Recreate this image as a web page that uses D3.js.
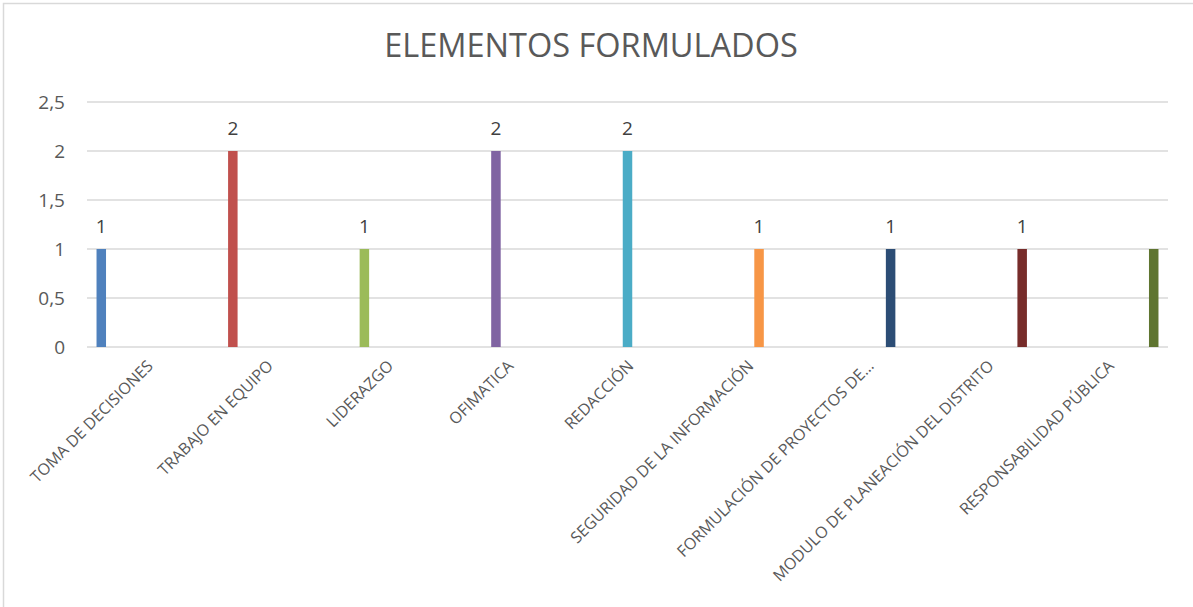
<!DOCTYPE html>
<html>
<head>
<meta charset="utf-8">
<script src="https://cdn.jsdelivr.net/npm/d3@7"></script>
<style>
  html, body { margin: 0; padding: 0; background: #fff; }
  svg { display: block; }
  text { font-family: "Open Sans", "Noto Sans", sans-serif; }
</style>
</head>
<body>
<svg id="chart" width="1193" height="607"></svg>
<script>
const title = "ELEMENTOS FORMULADOS";
const categories = [
  "TOMA DE DECISIONES",
  "TRABAJO EN EQUIPO",
  "LIDERAZGO",
  "OFIMATICA",
  "REDACCIÓN",
  "SEGURIDAD DE LA INFORMACIÓN",
  "FORMULACIÓN DE PROYECTOS DE…",
  "MODULO DE PLANEACIÓN DEL DISTRITO",
  "RESPONSABILIDAD PÚBLICA"
];
const values = [1, 2, 1, 2, 2, 1, 1, 1, 1];
const dataLabels = ["1", "2", "1", "2", "2", "1", "1", "1", null];
const colors = ["#4F81BD", "#C0504D", "#9BBB59", "#8064A2", "#4BACC6", "#F79646", "#2C4D75", "#772C2A", "#5F7530"];
const yTicks = [0, 0.5, 1, 1.5, 2, 2.5];
const yTickLabels = ["0", "0,5", "1", "1,5", "2", "2,5"];

const svg = d3.select("#chart");
const W = 1193, H = 607;

// chart border
svg.append("path")
  .attr("d", `M3.5,${H} L3.5,3.5 L${W},3.5`)
  .attr("fill", "none")
  .attr("stroke", "#d9d9d9")
  .attr("stroke-width", 1.5);

const plot = { left: 87, right: 1168, top: 102, bottom: 347 };

const x = d3.scaleBand().domain(categories).range([plot.left, plot.right]).padding(0);
// each category is its own series in a cluster of 9 slots
const inner = d3.scaleBand().domain(d3.range(categories.length))
  .range([(x.bandwidth() - 103) / 2, (x.bandwidth() + 103) / 2])
  .paddingInner(0.17).paddingOuter(0.085);
const y = d3.scaleLinear().domain([0, 2.5]).range([plot.bottom, plot.top]);

// title
svg.append("text")
  .attr("x", 591).attr("y", 57)
  .attr("text-anchor", "middle")
  .attr("font-size", 32.5)
  .attr("fill", "#595959")
  .text(title);

// gridlines
svg.append("g").selectAll("line").data(yTicks).join("line")
  .attr("x1", plot.left).attr("x2", plot.right)
  .attr("y1", d => y(d)).attr("y2", d => y(d))
  .attr("stroke", "#d9d9d9").attr("stroke-width", 1.5);

// y axis labels
const yAxis = d3.axisLeft(y).tickValues(yTicks).tickFormat((d, i) => yTickLabels[i]).tickSize(0).tickPadding(0);
const yg = svg.append("g").attr("transform", `translate(65,0)`).call(yAxis);
yg.select(".domain").remove();
yg.selectAll("text").attr("font-size", 19).attr("fill", "#595959")
  .attr("font-family", '"Open Sans", sans-serif').attr("dy", "0.35em");

// bars
svg.append("g").selectAll("rect").data(values).join("rect")
  .attr("x", (d, i) => x(categories[i]) + inner(i))
  .attr("width", inner.bandwidth())
  .attr("y", d => y(d))
  .attr("height", d => y(0) - y(d))
  .attr("fill", (d, i) => colors[i]);

// data labels
svg.append("g").selectAll("text").data(values).join("text")
  .attr("x", (d, i) => x(categories[i]) + inner(i) + inner.bandwidth() / 2)
  .attr("y", d => y(d) - 16)
  .attr("text-anchor", "middle")
  .attr("font-size", 19)
  .attr("fill", "#404040")
  .text((d, i) => dataLabels[i] === null ? "" : dataLabels[i]);

// category labels (rotated -45)
svg.append("g").selectAll("text").data(categories).join("text")
  .attr("transform", d => `translate(${x(d) + x.bandwidth() / 2 + 7},${367}) rotate(-45)`)
  .attr("text-anchor", "end")
  .attr("font-size", 16)
  .attr("fill", "#595959")
  .text(d => d);
</script>
</body>
</html>
